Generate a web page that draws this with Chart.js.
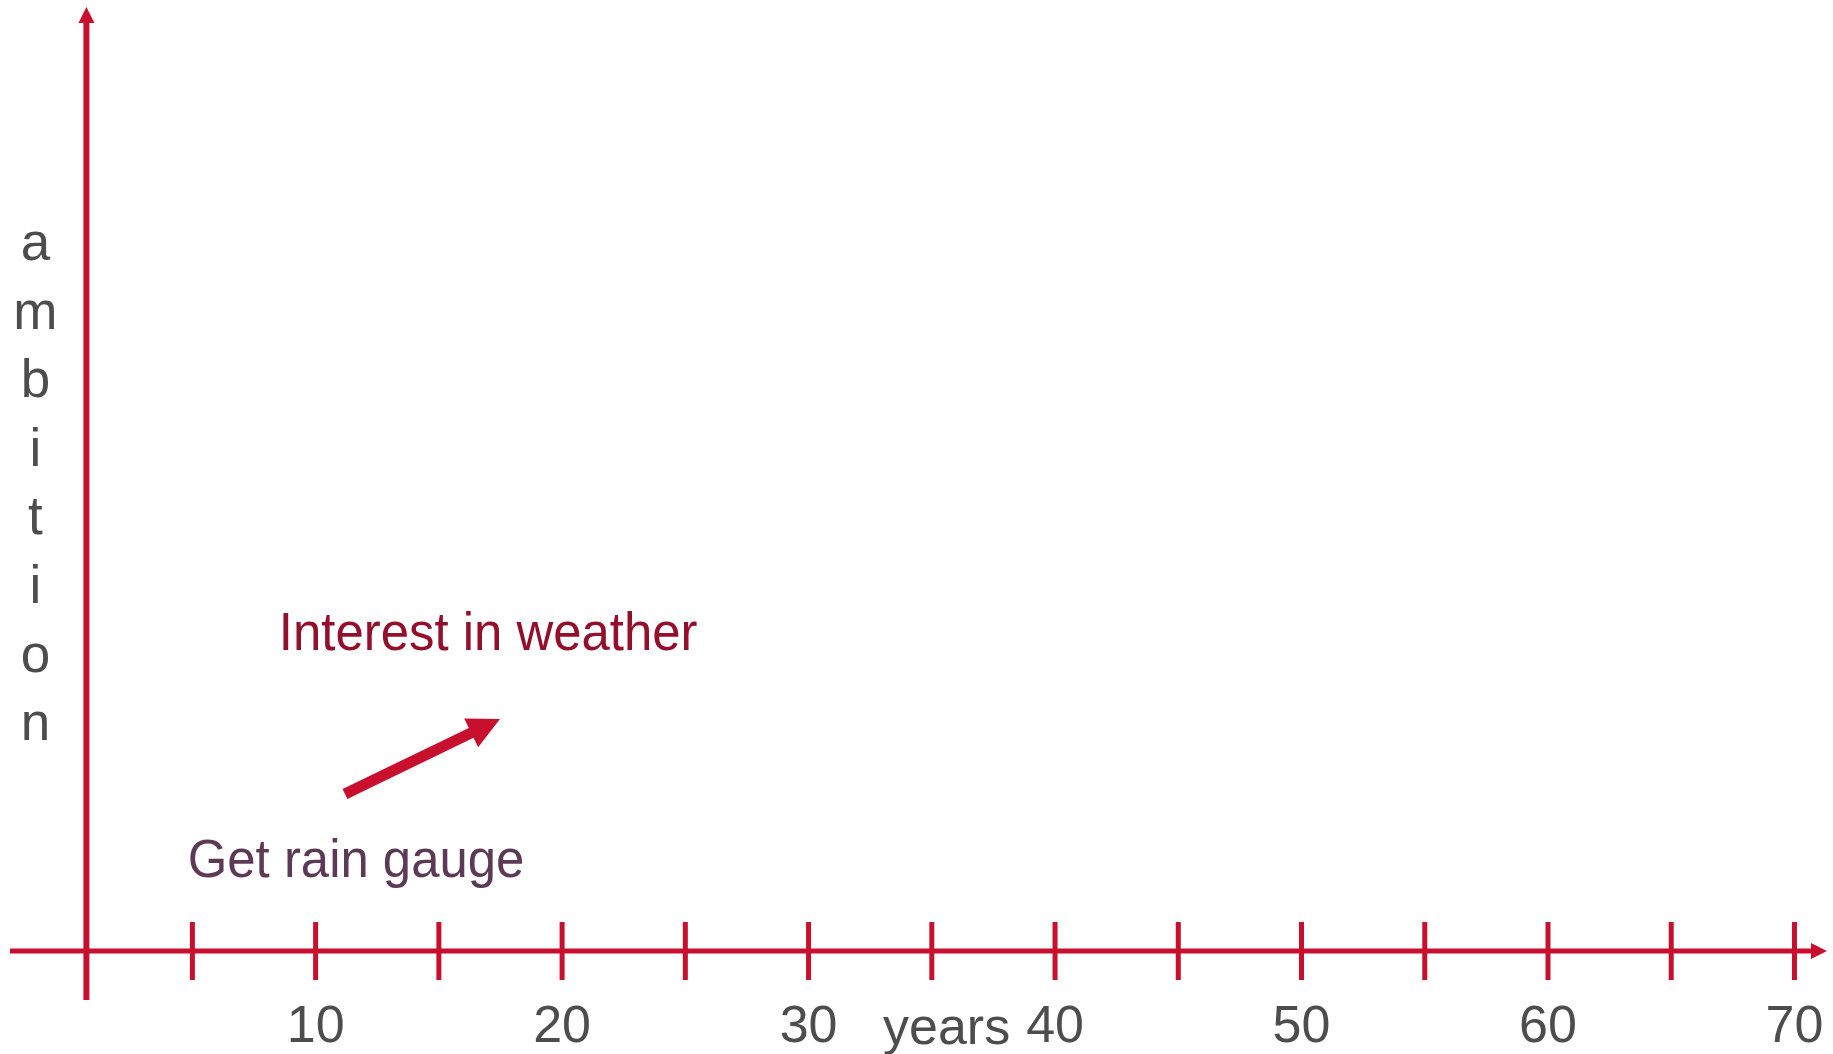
<!DOCTYPE html>
<html lang="en">
<head>
    <meta charset="UTF-8">
    <title>Ambition over the years</title>
    <script src="https://cdn.jsdelivr.net/npm/chart.js"></script>
    <style>
        body {
            margin: 0;
            background-color: #ffffff;
        }
        .chart-box {
            width: 1833px;
            height: 1054px;
        }
    </style>
</head>
<body>
<div class="chart-box">
    <canvas id="ambitionChart"></canvas>
</div>

<script>
    // Dados do gráfico
    const yearLabels = [10, 20, 30, 40, 50, 60, 70];
    const yearMarks = [5, 10, 15, 20, 25, 30, 35, 40, 45, 50, 55, 60, 65, 70];
    const xTitle = "years";
    const yTitle = "ambition";
    const noteTexts = ["Interest in weather", "Get rain gauge"];
    const noteYears = [17.0, 11.64];
    const noteLevels = [31.9, 7.84];
    const arrowYears = [11.19, 17.48];
    const arrowLevels = [16.63, 24.58];
    const yAxisYear = 0.7;
    const xTitleYear = 35.6;

    const RED = "#c8102e";
    const GREY = "#4d4d4d";
    const FONT = "'Liberation Sans', Arial, sans-serif";
    const noteColors = ["#930f2b", "#5c3a56"];

    // desenha eixos com setas, marcas, seta da anotação e textos
    const axesPlugin = {
        id: "axesPlugin",
        afterDatasetsDraw(chart) {
            const ctx = chart.ctx;
            const area = chart.chartArea;
            const xs = chart.scales.x;
            const ys = chart.scales.y;
            const y0 = ys.getPixelForValue(0);
            const xv = xs.getPixelForValue(yAxisYear);

            ctx.save();
            ctx.strokeStyle = RED;
            ctx.fillStyle = RED;
            ctx.lineCap = "butt";

            // eixo horizontal
            ctx.lineWidth = 5;
            ctx.beginPath();
            ctx.moveTo(area.left, y0);
            ctx.lineTo(area.right - 14, y0);
            ctx.stroke();
            ctx.beginPath();
            ctx.moveTo(area.right, y0);
            ctx.lineTo(area.right - 16, y0 - 8);
            ctx.lineTo(area.right - 16, y0 + 8);
            ctx.closePath();
            ctx.fill();

            // eixo vertical
            ctx.lineWidth = 6;
            ctx.beginPath();
            ctx.moveTo(xv, y0 + 49);
            ctx.lineTo(xv, area.top + 14);
            ctx.stroke();
            ctx.beginPath();
            ctx.moveTo(xv, area.top);
            ctx.lineTo(xv - 8, area.top + 16);
            ctx.lineTo(xv + 8, area.top + 16);
            ctx.closePath();
            ctx.fill();

            // marcas a cada 5 anos
            ctx.lineWidth = 5;
            yearMarks.forEach(v => {
                const px = xs.getPixelForValue(v);
                ctx.beginPath();
                ctx.moveTo(px, y0 - 29);
                ctx.lineTo(px, y0 + 29);
                ctx.stroke();
            });

            // seta entre as anotações
            const pts = chart.getDatasetMeta(0).data;
            const p0 = pts[0], p1 = pts[1];
            const dx = p1.x - p0.x, dy = p1.y - p0.y;
            const len = Math.hypot(dx, dy);
            const ux = dx / len, uy = dy / len;
            const head = 32, half = 16;
            const bx = p1.x - ux * head, by = p1.y - uy * head;
            ctx.lineWidth = 11;
            ctx.beginPath();
            ctx.moveTo(p0.x, p0.y);
            ctx.lineTo(bx + ux * 4, by + uy * 4);
            ctx.stroke();
            ctx.beginPath();
            ctx.moveTo(p1.x, p1.y);
            ctx.lineTo(bx - uy * half, by + ux * half);
            ctx.lineTo(bx + uy * half, by - ux * half);
            ctx.closePath();
            ctx.fill();

            // textos das anotações (levemente condensados)
            ctx.font = "53px " + FONT;
            ctx.textAlign = "center";
            ctx.textBaseline = "alphabetic";
            noteTexts.forEach((t, i) => {
                const px = xs.getPixelForValue(noteYears[i]);
                const py = ys.getPixelForValue(noteLevels[i]);
                ctx.save();
                ctx.translate(px, py);
                ctx.scale(0.96, 1);
                ctx.fillStyle = noteColors[i];
                ctx.fillText(t, 0, 0);
                ctx.restore();
            });

            // título do eixo x
            ctx.fillStyle = GREY;
            ctx.font = "52px " + FONT;
            ctx.fillText(xTitle, xs.getPixelForValue(xTitleYear), y0 + 93);

            // título do eixo y, letra por letra
            ctx.font = "53px " + FONT;
            const lx = xv - 51;
            yTitle.split("").forEach((ch, i) => {
                ctx.fillText(ch, lx, area.top + 253 + i * 68.6);
            });

            ctx.restore();
        }
    };

    const ctx = document.getElementById("ambitionChart").getContext("2d");
    new Chart(ctx, {
        type: "scatter",
        data: {
            datasets: [{
                label: "arrow",
                data: arrowYears.map((x, i) => ({ x, y: arrowLevels[i] })),
                showLine: false,
                pointRadius: 0,
                borderColor: RED,
                backgroundColor: RED
            }]
        },
        options: {
            responsive: true,
            maintainAspectRatio: false,
            animation: false,
            layout: {
                padding: { left: 10, right: 6, top: 7, bottom: 5 }
            },
            plugins: {
                legend: { display: false },
                tooltip: { enabled: false }
            },
            scales: {
                x: {
                    type: "linear",
                    min: -2.4,
                    max: 71.32,
                    grid: { display: false, drawTicks: false },
                    border: { display: false },
                    afterBuildTicks: scale => {
                        scale.ticks = yearLabels.map(v => ({ value: v }));
                    },
                    afterFit: scale => {
                        // a área de rótulos fica fixa, sem folga lateral
                        scale.height = 98;
                        scale.paddingLeft = 0;
                        scale.paddingRight = 0;
                    },
                    ticks: {
                        color: GREY,
                        padding: 51,
                        maxRotation: 0,
                        autoSkip: false,
                        font: { family: FONT, size: 52, lineHeight: 1 }
                    }
                },
                y: {
                    display: false,
                    min: 0,
                    max: 100
                }
            }
        },
        plugins: [axesPlugin]
    });
</script>
</body>
</html>
